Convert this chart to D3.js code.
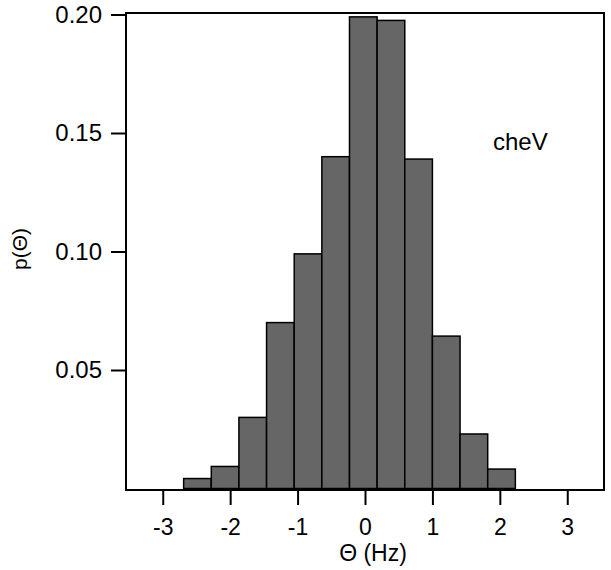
<!DOCTYPE html>
<html>
<head>
<meta charset="utf-8">
<script src="https://cdn.jsdelivr.net/npm/d3@7"></script>
<style>
  body { margin: 0; background: #fff; }
  svg text { font-family: "Liberation Sans", Arial, sans-serif; fill: #000; }
</style>
</head>
<body>
<svg id="chart" width="611" height="570"></svg>
<script>
// histogram bin edges (Hz) and probabilities
const binEdges = [-2.69, -2.28, -1.87, -1.46, -1.05, -0.64, -0.23, 0.18, 0.59, 1.00, 1.41, 1.82, 2.23];
const probs = [0.0042, 0.0093, 0.030, 0.070, 0.099, 0.140, 0.199, 0.1975, 0.139, 0.0643, 0.023, 0.0082];
const xTicks = [-3, -2, -1, 0, 1, 2, 3];
const yTicks = [0.05, 0.10, 0.15, 0.20];
const label = "cheV";

const colors = {
  bar: "#666666",
  stroke: "#000000"
};

function main() {
  const svg = d3.select("#chart");
  const left = 126, right = 604, top = 13, bottom = 490;

  const x = d3.scaleLinear().domain([-3.545, 3.545]).range([left, right]);
  const y = d3.scaleLinear().domain([0, 0.2]).range([488.5, 14.5]);

  const bins = probs.map((p, i) => ({ x0: binEdges[i], x1: binEdges[i + 1], p }));

  // bars
  svg.append("g").selectAll("rect")
    .data(bins)
    .enter().append("rect")
    .attr("x", d => x(d.x0))
    .attr("width", d => x(d.x1) - x(d.x0))
    .attr("y", d => y(d.p))
    .attr("height", d => y(0) - y(d.p))
    .attr("fill", colors.bar)
    .attr("stroke", colors.stroke)
    .attr("stroke-width", 1.5);

  // frame
  svg.append("rect")
    .attr("x", left).attr("y", top)
    .attr("width", right - left).attr("height", bottom - top)
    .attr("fill", "none")
    .attr("stroke", colors.stroke)
    .attr("stroke-width", 2);

  // x axis (plain hyphen for negatives, like the original)
  const xAxis = svg.append("g")
    .attr("transform", `translate(0,${bottom})`)
    .call(d3.axisBottom(x).tickValues(xTicks).tickSize(15).tickPadding(14).tickFormat(d => String(d)));
  xAxis.select(".domain").remove();
  xAxis.selectAll("line").attr("stroke-width", 2);
  xAxis.selectAll("text").style("font-size", "23px");

  // y axis
  const yAxis = svg.append("g")
    .attr("transform", `translate(${left},0)`)
    .call(d3.axisLeft(y).tickValues(yTicks).tickSize(15).tickPadding(9).tickFormat(d3.format(".2f")));
  yAxis.select(".domain").remove();
  yAxis.selectAll("line").attr("stroke-width", 2);
  yAxis.selectAll("text").style("font-size", "24px");

  // axis titles
  svg.append("text")
    .attr("x", 373).attr("y", 561)
    .attr("text-anchor", "middle")
    .style("font-size", "23px")
    .text("Θ (Hz)");

  svg.append("text")
    .attr("transform", "translate(27,249) rotate(-90)")
    .attr("text-anchor", "middle")
    .style("font-size", "21px")
    .text("p(Θ)");

  svg.append("text")
    .attr("x", 493).attr("y", 150)
    .style("font-size", "24px")
    .text(label);
}

main();
</script>
</body>
</html>
